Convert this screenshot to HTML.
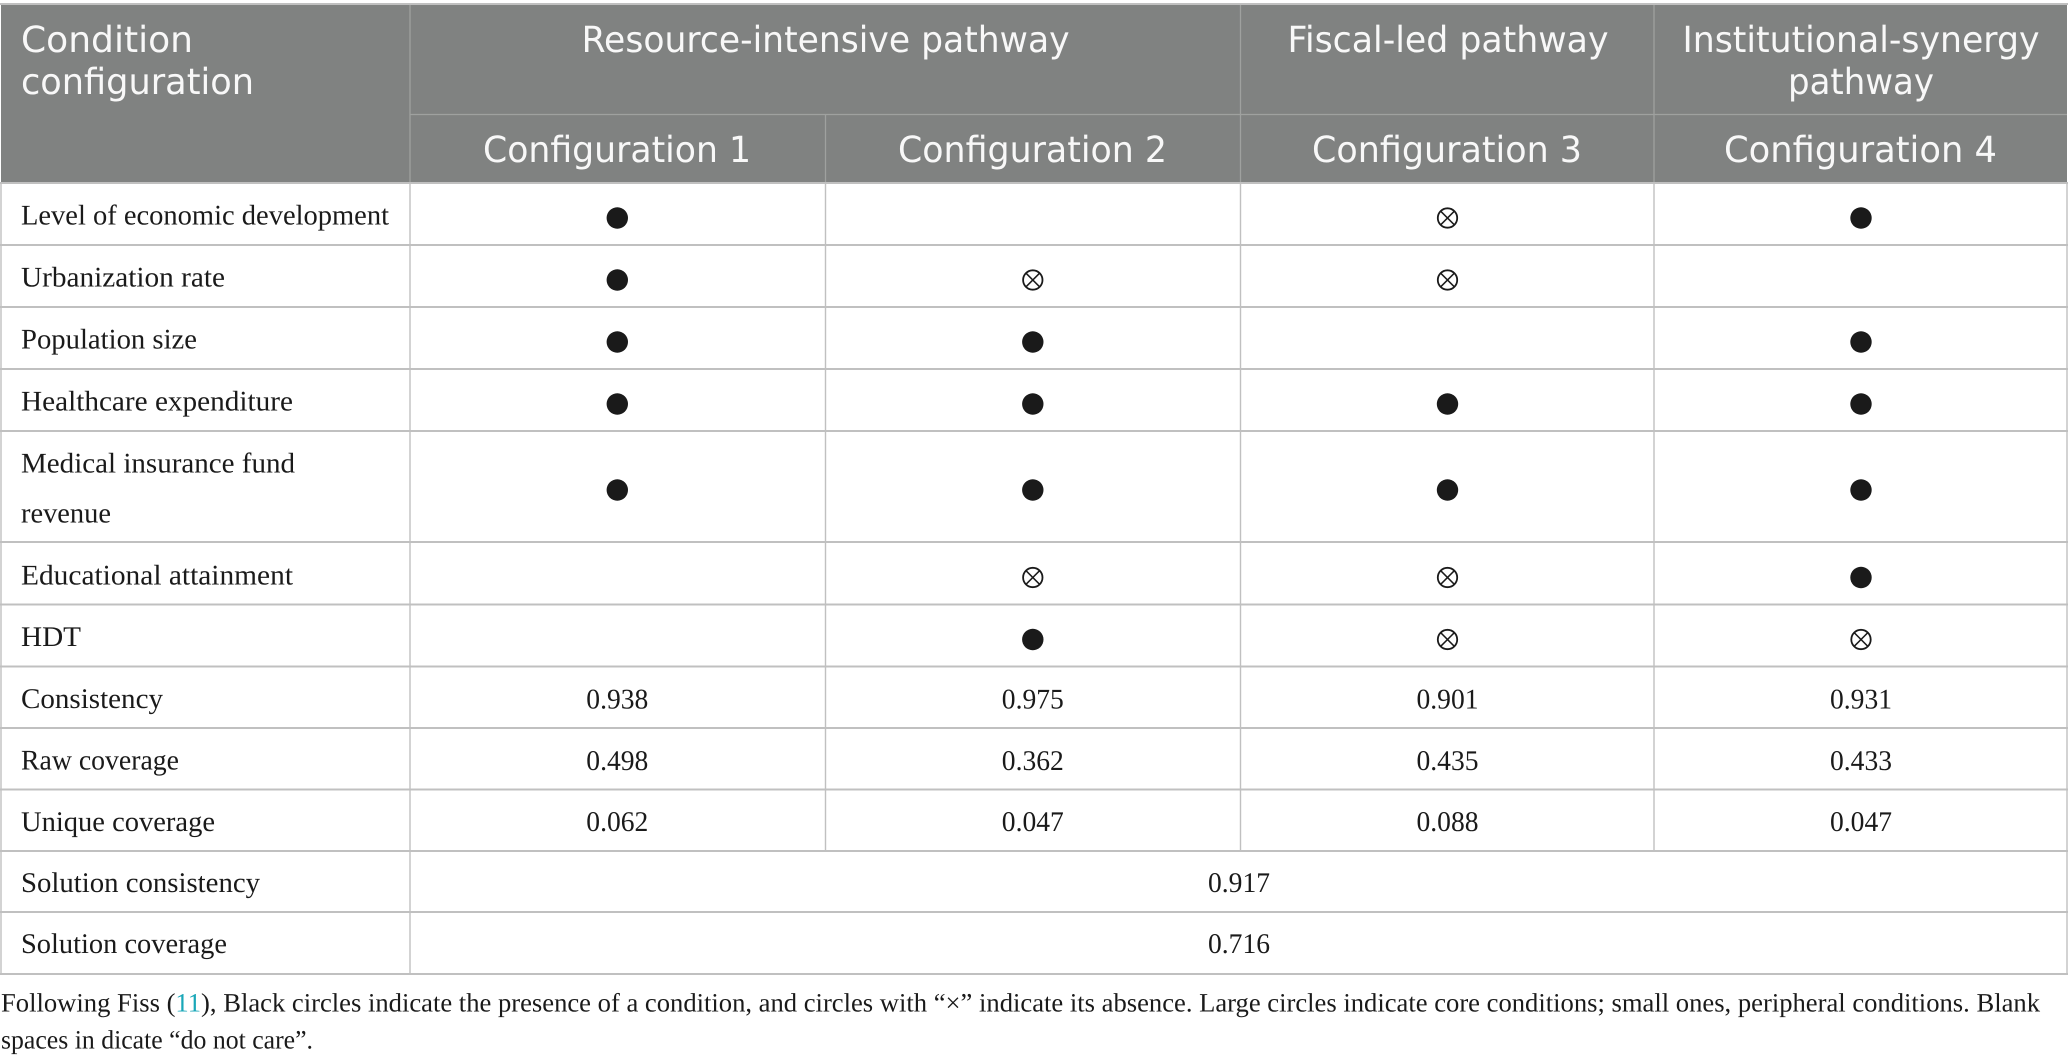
<!DOCTYPE html>
<html lang="en">
<head>
<meta charset="utf-8">
<title>Condition configuration table</title>
<style>
html,body{margin:0;padding:0;background:#fff;width:2068px;height:1063px;overflow:hidden}
svg{display:block;text-rendering:geometricPrecision}
.h{font-family:"DejaVu Sans","Liberation Sans",sans-serif;font-size:36px;fill:#f8f8f8;font-weight:normal}
.hm{text-anchor:middle}
.b{font-family:"Liberation Serif",serif;font-size:28.5px;fill:#1a1a1a}
.v{font-family:"Liberation Serif",serif;font-size:28.5px;fill:#1a1a1a;text-anchor:middle}
.c{font-family:"Liberation Serif",serif;font-size:26.5px;fill:#1a1a1a}
.hl{stroke:#9fa19f;stroke-width:1.3}
.gl{stroke:#c0c0c0;stroke-width:2}
.vl{stroke:#c0c0c0;stroke-width:1.4}
.on{fill:#1a1a1a}
.off circle{fill:none;stroke:#1a1a1a;stroke-width:1.8}
.off line{stroke:#1a1a1a;stroke-width:1.5}
</style>
</head>
<body>
<svg width="2068" height="1063" viewBox="0 0 2068 1063" xmlns="http://www.w3.org/2000/svg">
<defs>
<g id="x" class="off"><circle r="9.7"/><line x1="-6.8" y1="-6.8" x2="6.8" y2="6.8"/><line x1="-6.8" y1="6.8" x2="6.8" y2="-6.8"/></g>
</defs>
<rect x="1" y="4" width="2066" height="179" fill="#808281"/>

<g>
<line class="hl" x1="410" y1="114.5" x2="2067" y2="114.5"/>
<line class="hl" x1="410" y1="5" x2="410" y2="183"/>
<line class="hl" x1="825.5" y1="115" x2="825.5" y2="183"/>
<line class="hl" x1="1240.5" y1="5" x2="1240.5" y2="183"/>
<line class="hl" x1="1654" y1="5" x2="1654" y2="183"/>
<line class="gl" x1="0" y1="4" x2="2068" y2="4"/>
<line class="gl" x1="0" y1="183" x2="2068" y2="183"/>
<line class="gl" x1="0" y1="245" x2="2068" y2="245"/>
<line class="gl" x1="0" y1="307" x2="2068" y2="307"/>
<line class="gl" x1="0" y1="369" x2="2068" y2="369"/>
<line class="gl" x1="0" y1="431" x2="2068" y2="431"/>
<line class="gl" x1="0" y1="542" x2="2068" y2="542"/>
<line class="gl" x1="0" y1="604.5" x2="2068" y2="604.5"/>
<line class="gl" x1="0" y1="666.5" x2="2068" y2="666.5"/>
<line class="gl" x1="0" y1="728" x2="2068" y2="728"/>
<line class="gl" x1="0" y1="789.5" x2="2068" y2="789.5"/>
<line class="gl" x1="0" y1="851" x2="2068" y2="851"/>
<line class="gl" x1="0" y1="912" x2="2068" y2="912"/>
<line class="gl" x1="0" y1="974" x2="2068" y2="974"/>
<line class="vl" x1="1" y1="183" x2="1" y2="974"/>
<line class="vl" x1="2067" y1="183" x2="2067" y2="974"/>
<line class="vl" x1="410" y1="183" x2="410" y2="974"/>
<line class="vl" x1="825.5" y1="183" x2="825.5" y2="851"/>
<line class="vl" x1="1240.5" y1="183" x2="1240.5" y2="851"/>
<line class="vl" x1="1654" y1="183" x2="1654" y2="851"/>
</g>

<g>
<text class="h" x="21" y="52" textLength="172" lengthAdjust="spacingAndGlyphs">Condition</text>
<text class="h" x="21" y="94" textLength="233" lengthAdjust="spacingAndGlyphs">configuration</text>
<text class="h hm" x="825.6" y="52" textLength="488" lengthAdjust="spacingAndGlyphs">Resource-intensive pathway</text>
<text class="h hm" x="1448" y="52" textLength="321" lengthAdjust="spacingAndGlyphs">Fiscal-led pathway</text>
<text class="h hm" x="1861" y="52" textLength="357" lengthAdjust="spacingAndGlyphs">Institutional-synergy</text>
<text class="h hm" x="1861" y="94" textLength="146" lengthAdjust="spacingAndGlyphs">pathway</text>
<text class="h hm" x="617" y="162" textLength="268" lengthAdjust="spacingAndGlyphs">Configuration 1</text>
<text class="h hm" x="1032.5" y="162" textLength="269" lengthAdjust="spacingAndGlyphs">Configuration 2</text>
<text class="h hm" x="1447" y="162" textLength="270" lengthAdjust="spacingAndGlyphs">Configuration 3</text>
<text class="h hm" x="1860.5" y="162" textLength="273" lengthAdjust="spacingAndGlyphs">Configuration 4</text>
</g>

<g>
<text class="b" x="21" y="224.7" textLength="368" lengthAdjust="spacingAndGlyphs">Level of economic development</text>
<text class="b" x="21" y="286.7" textLength="204" lengthAdjust="spacingAndGlyphs">Urbanization rate</text>
<text class="b" x="21" y="348.7" textLength="176" lengthAdjust="spacingAndGlyphs">Population size</text>
<text class="b" x="21" y="410.7" textLength="272" lengthAdjust="spacingAndGlyphs">Healthcare expenditure</text>
<text class="b" x="21" y="472.7" textLength="274" lengthAdjust="spacingAndGlyphs">Medical insurance fund</text>
<text class="b" x="21" y="522.7" textLength="90" lengthAdjust="spacingAndGlyphs">revenue</text>
<text class="b" x="21" y="584.7" textLength="272" lengthAdjust="spacingAndGlyphs">Educational attainment</text>
<text class="b" x="21" y="646" textLength="60" lengthAdjust="spacingAndGlyphs">HDT</text>
<text class="b" x="21" y="708" textLength="142" lengthAdjust="spacingAndGlyphs">Consistency</text>
<text class="b" x="21" y="769.5" textLength="158" lengthAdjust="spacingAndGlyphs">Raw coverage</text>
<text class="b" x="21" y="831" textLength="194" lengthAdjust="spacingAndGlyphs">Unique coverage</text>
<text class="b" x="21" y="892" textLength="239" lengthAdjust="spacingAndGlyphs">Solution consistency</text>
<text class="b" x="21" y="953" textLength="206" lengthAdjust="spacingAndGlyphs">Solution coverage</text>
</g>

<g>
<circle class="on" cx="617.3" cy="218" r="10.7"/>
<use href="#x" x="1447.5" y="218"/>
<circle class="on" cx="1861" cy="218" r="10.7"/>

<circle class="on" cx="617.3" cy="280" r="10.7"/>
<use href="#x" x="1032.8" y="280"/>
<use href="#x" x="1447.5" y="280"/>

<circle class="on" cx="617.3" cy="342" r="10.7"/>
<circle class="on" cx="1032.8" cy="342" r="10.7"/>
<circle class="on" cx="1861" cy="342" r="10.7"/>

<circle class="on" cx="617.3" cy="404" r="10.7"/>
<circle class="on" cx="1032.8" cy="404" r="10.7"/>
<circle class="on" cx="1447.5" cy="404" r="10.7"/>
<circle class="on" cx="1861" cy="404" r="10.7"/>

<circle class="on" cx="617.3" cy="490" r="10.7"/>
<circle class="on" cx="1032.8" cy="490" r="10.7"/>
<circle class="on" cx="1447.5" cy="490" r="10.7"/>
<circle class="on" cx="1861" cy="490" r="10.7"/>

<use href="#x" x="1032.8" y="577.5"/>
<use href="#x" x="1447.5" y="577.5"/>
<circle class="on" cx="1861" cy="577.5" r="10.7"/>

<circle class="on" cx="1032.8" cy="639.5" r="10.7"/>
<use href="#x" x="1447.5" y="639.5"/>
<use href="#x" x="1861" y="639.5"/>
</g>

<g>
<text class="v" x="617.3" y="708.7" textLength="62" lengthAdjust="spacingAndGlyphs">0.938</text>
<text class="v" x="1032.8" y="708.7" textLength="62" lengthAdjust="spacingAndGlyphs">0.975</text>
<text class="v" x="1447.5" y="708.7" textLength="62" lengthAdjust="spacingAndGlyphs">0.901</text>
<text class="v" x="1861" y="708.7" textLength="62" lengthAdjust="spacingAndGlyphs">0.931</text>
<text class="v" x="617.3" y="770" textLength="62" lengthAdjust="spacingAndGlyphs">0.498</text>
<text class="v" x="1032.8" y="770" textLength="62" lengthAdjust="spacingAndGlyphs">0.362</text>
<text class="v" x="1447.5" y="770" textLength="62" lengthAdjust="spacingAndGlyphs">0.435</text>
<text class="v" x="1861" y="770" textLength="62" lengthAdjust="spacingAndGlyphs">0.433</text>
<text class="v" x="617.3" y="831" textLength="62" lengthAdjust="spacingAndGlyphs">0.062</text>
<text class="v" x="1032.8" y="831" textLength="62" lengthAdjust="spacingAndGlyphs">0.047</text>
<text class="v" x="1447.5" y="831" textLength="62" lengthAdjust="spacingAndGlyphs">0.088</text>
<text class="v" x="1861" y="831" textLength="62" lengthAdjust="spacingAndGlyphs">0.047</text>
<text class="v" x="1239" y="892" textLength="62" lengthAdjust="spacingAndGlyphs">0.917</text>
<text class="v" x="1239" y="953" textLength="62" lengthAdjust="spacingAndGlyphs">0.716</text>
</g>

<g>
<text class="c" x="1" y="1011.7" textLength="2039" lengthAdjust="spacingAndGlyphs">Following Fiss (<tspan fill="#1aa7b8">11</tspan>), Black circles indicate the presence of a condition, and circles with “×” indicate its absence. Large circles indicate core conditions; small ones, peripheral conditions. Blank</text>
<text class="c" x="1" y="1048.5" textLength="312" lengthAdjust="spacingAndGlyphs">spaces in dicate “do not care”.</text>
</g>
</svg>
</body>
</html>
